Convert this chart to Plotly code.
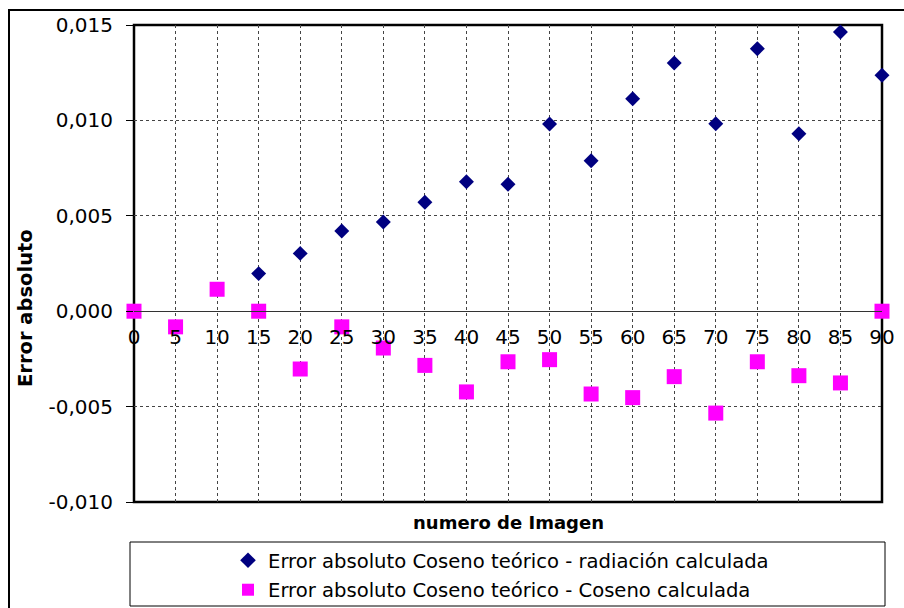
import plotly.graph_objects as go

# ---- data ----
images = [0, 5, 10, 15, 20, 25, 30, 35, 40, 45, 50, 55, 60, 65, 70, 75, 80, 85, 90]
err_radiacion_x = [15, 20, 25, 30, 35, 40, 45, 50, 55, 60, 65, 70, 75, 80, 85, 90]
err_radiacion = [0.00197, 0.00303, 0.00420, 0.00467, 0.00571, 0.00679, 0.00665, 0.00981,
                 0.00789, 0.01113, 0.01301, 0.00982, 0.01376, 0.00930, 0.01463, 0.01237]
err_coseno = [0.0, -0.00082, 0.00115, 0.0, -0.00303, -0.00082, -0.00193, -0.00284, -0.00423,
              -0.00265, -0.00254, -0.00434, -0.00453, -0.00343, -0.00534, -0.00265, -0.00338,
              -0.00376, 0.0]
x_tick_vals = images
x_tick_labels = [str(v) for v in images]
y_tick_vals = [-0.010, -0.005, 0.0, 0.005, 0.010, 0.015]
y_tick_labels = ["-0,010", "-0,005", "0,000", "0,005", "0,010", "0,015"]

name_rad = "Error absoluto Coseno teórico - radiación calculada"
name_cos = "Error absoluto Coseno teórico - Coseno calculada"

# body margin is removed in the page, so figure pixels == window pixels
W, H = 904, 608
L, R, T, B = 134, W - 882, 25, H - 502
pw, ph = W - L - R, H - T - B


def px(xs):
    """screen x -> paper fraction"""
    return (xs - L) / pw


def py(ys):
    """screen y -> paper fraction"""
    return (H - B - ys) / ph


fig = go.Figure()
fig.add_trace(go.Scatter(
    x=err_radiacion_x, y=err_radiacion, mode="markers", name=name_rad,
    legendgroup="a",
    marker=dict(symbol="diamond", size=11.5, color="#000080"),
    cliponaxis=False,
))
fig.add_trace(go.Scatter(
    x=images, y=err_coseno, mode="markers", name=name_cos,
    legendgroup="b",
    marker=dict(symbol="square", size=15, color="#FF00FF"),
    cliponaxis=False,
))

tick_font = dict(family="DejaVu Sans, Verdana, sans-serif", size=20, color="black")

fig.update_layout(
    width=W, height=H,
    margin=dict(l=L, r=R, t=T, b=B, pad=0, autoexpand=False),
    paper_bgcolor="white", plot_bgcolor="white",
    font=dict(family="DejaVu Sans, Verdana, sans-serif", color="black"),
    separators=",.",
    showlegend=True,
    legend=dict(
        x=px(228), xanchor="left", y=py(575), yanchor="middle",
        bgcolor="rgba(0,0,0,0)", borderwidth=0,
        font=dict(family="DejaVu Sans, Verdana, sans-serif", size=19.6, color="black"),
        itemsizing="constant", itemwidth=30, tracegroupgap=1,
    ),
    xaxis=dict(
        range=[0, 90], tickmode="array", tickvals=x_tick_vals, ticktext=x_tick_labels,
        showgrid=True, gridcolor="#444444", griddash="dot", gridwidth=1,
        showline=True, linecolor="#333333", linewidth=1,
        anchor="free", position=0.4, ticks="", tickfont=tick_font,
        ticklabelstandoff=8, automargin=False,
        zeroline=False,
    ),
    yaxis=dict(
        range=[-0.010, 0.015], tickmode="array", tickvals=y_tick_vals, ticktext=y_tick_labels,
        showgrid=True, gridcolor="#444444", griddash="dot", gridwidth=1,
        zeroline=False, showline=False,
        ticks="outside", ticklen=7, tickcolor="black", tickwidth=1,
        tickfont=tick_font, ticklabelstandoff=9, automargin=False,
    ),
    shapes=[
        # plot area border
        dict(type="rect", xref="paper", yref="paper", x0=0, x1=1, y0=0, y1=1,
             line=dict(color="black", width=2.5), layer="below"),
        # legend box
        dict(type="rect", xref="paper", yref="paper", x0=px(130), x1=px(885),
             y0=py(606), y1=py(542), line=dict(color="black", width=1), layer="below"),
        # outer chart border
        dict(type="rect", xref="paper", yref="paper", x0=px(9), x1=px(960),
             y0=py(660), y1=py(10), line=dict(color="black", width=2), layer="below"),
    ],
    annotations=[
        dict(text="Error absoluto", xref="paper", yref="paper", x=px(25), y=py(308),
             xanchor="center", yanchor="middle", textangle=-90, showarrow=False,
             font=dict(family="DejaVu Sans, Verdana, sans-serif", size=19.5, color="black",
                       weight="bold")),
        dict(text="numero de Imagen", xref="paper", yref="paper", x=0.5, y=py(522),
             xanchor="center", yanchor="middle", showarrow=False,
             font=dict(family="DejaVu Sans, Verdana, sans-serif", size=18, color="black",
                       weight="bold")),
    ],
)

fig.write_html(
    "out.html",
    config={"displayModeBar": False},
    post_script="document.body.style.margin='0';document.body.style.overflow='hidden';"
                "document.documentElement.style.overflow='hidden';",
)
